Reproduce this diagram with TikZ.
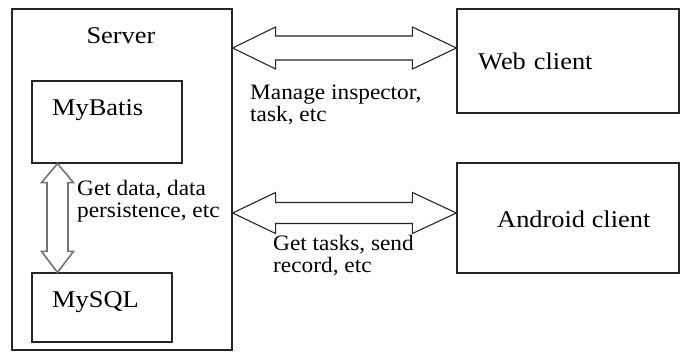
\documentclass[tikz,border=0pt]{standalone}
\usepackage{fontspec}
\setmainfont{Liberation Serif}
\newfontfamily\boxfont{Liberation Serif}[FakeStretch=1.1]
\newfontfamily\lblfont{Liberation Serif}[FakeStretch=1.06]
\usetikzlibrary{calc}
\begin{document}
\begin{tikzpicture}[x=1pt,y=-1pt,
  box/.style={draw=black!85,line width=1.2pt,minimum width=#1,inner sep=0pt,fill=white},
  txt/.style={inner sep=0pt,anchor=base west,font=\boxfont\fontsize{24}{24}\selectfont},
  lbl/.style={inner sep=0pt,anchor=base west,align=left,font=\lblfont\fontsize{22}{22}\selectfont},
  dbl/.style={draw=black!85,line width=1.1pt,fill=white,line join=miter},
  vdbl/.style={draw=black!55,line width=1.6pt,fill=white,line join=miter}]
\useasboundingbox (0,0) rectangle (680,352);
% boxes
\node[box=220pt,minimum height=341pt] (server) at (122,179.5) {};
\node[box=150pt,minimum height=82pt] (mybatis) at (107,122) {};
\node[box=140pt,minimum height=69pt] (mysql) at (102,307.5) {};
\node[box=222pt,minimum height=104pt] (web) at (568,61) {};
\node[box=222pt,minimum height=110pt] (android) at (568,218) {};
% box texts
\node[txt,anchor=base] (servert) at (121,44) {Server};
\node[txt] (mybatist) at (52,116) {MyBatis};
\node[txt] (mysqlt) at (52,308) {MySQL};
\node[txt] (webt) at (478,70) {Web\hspace{8pt}client};
\node[txt] (androidt) at (497,228) {Android client};
% connectors
\coordinate (t1l) at (server.east |- 0,48);
\coordinate (t1r) at (web.west |- 0,48);
\draw[dbl] (t1l) -- ++(43,-21) -- ++(0,9) -- ($(t1r)+(-44,-12)$) -- ++(0,-9) -- (t1r)
  -- ++(-44,21) -- ++(0,-9) -- ($(t1l)+(43,12)$) -- ++(0,9) -- cycle;
\coordinate (t2l) at (server.east |- 0,213);
\coordinate (t2r) at (android.west |- 0,213);
\draw[dbl] (t2l) -- ++(43,-20.5) -- ++(0,10) -- ($(t2r)+(-44,-10.5)$) -- ++(0,-10) -- (t2r)
  -- ++(-44,20.5) -- ++(0,-10) -- ($(t2l)+(43,10.5)$) -- ++(0,10) -- cycle;
\coordinate (vt) at (mybatis.south -| 57.5,0);
\coordinate (vb) at (mysql.north -| 57.5,0);
\draw[vdbl] (vt) -- ++(16,19) -- ++(-5.5,0) -- ($(vb)+(10.5,-21)$) -- ++(5.5,0) -- (vb)
  -- ++(-16,-21) -- ++(5.5,0) -- ($(vt)+(-10.5,19)$) -- ++(-5.5,0) -- cycle;
% labels (base anchor = baseline of last line)
\node[lbl] (l1) at (250,122) {Manage inspector,\\task, etc};
\node[lbl] (l2) at (273,273) {Get tasks, send\\record, etc};
\node[lbl] (l3) at (77,218) {Get data, data\\persistence, etc};
\end{tikzpicture}
\end{document}
